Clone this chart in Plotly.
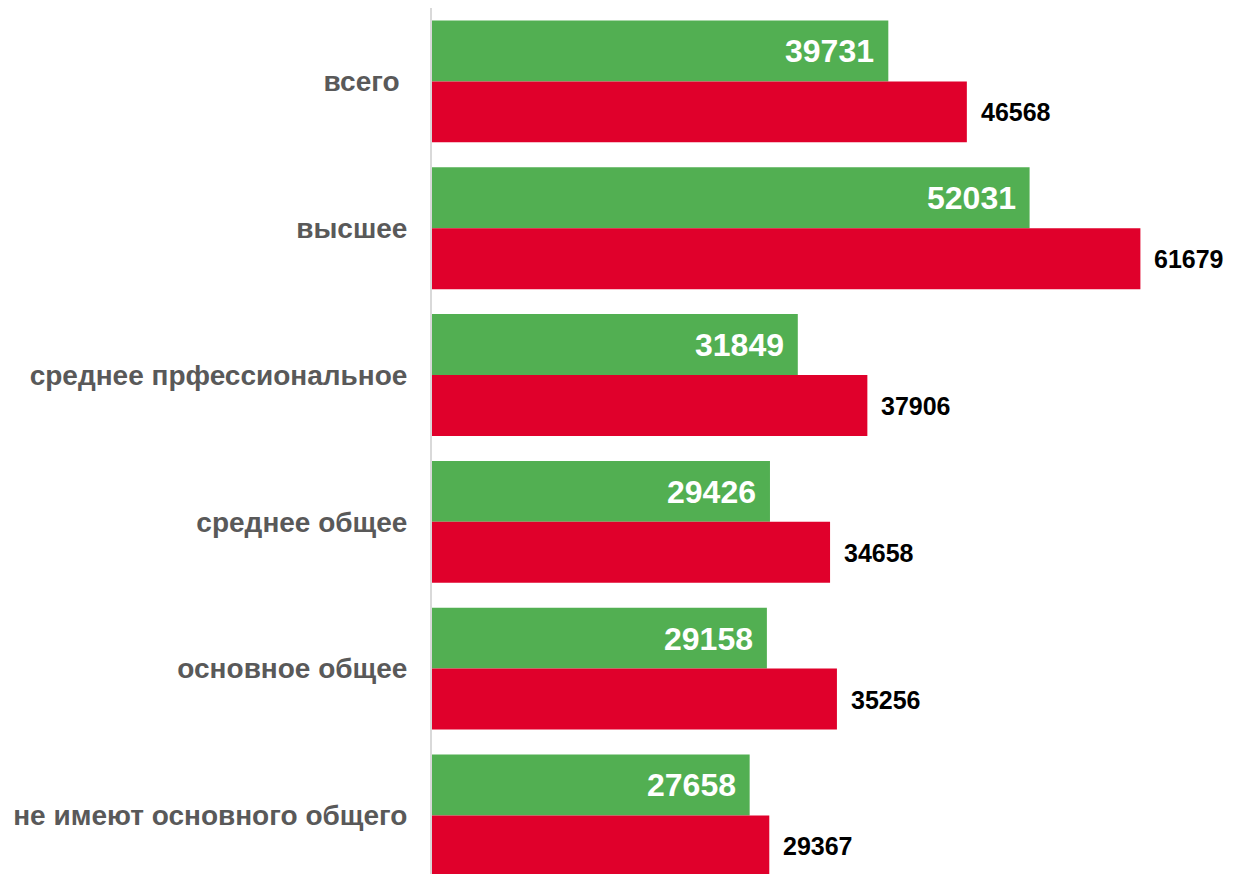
import plotly.graph_objects as go

categories = ["всего\u00a0", "высшее", "среднее прфессиональное", "среднее общее",
              "основное общее", "не имеют основного общего"]
green_values = [39731, 52031, 31849, 29426, 29158, 27658]
red_values = [46568, 61679, 37906, 34658, 35256, 29367]

GREEN = "#52AF52"
RED = "#E0002B"
FONT = "Liberation Sans, Arial, sans-serif"

fig = go.Figure()
fig.add_trace(go.Bar(y=categories, x=green_values, orientation="h",
                     marker=dict(color=GREEN, line=dict(width=0)), name="g"))
fig.add_trace(go.Bar(y=categories, x=red_values, orientation="h",
                     marker=dict(color=RED, line=dict(width=0)), name="r"))

annotations = []
for c, g, r in zip(categories, green_values, red_values):
    annotations.append(dict(x=g, y=c, xref="x", yref="y", text=f"{g}", showarrow=False,
                            xanchor="right", xshift=-12, yshift=30,
                            font=dict(family=FONT, size=32, color="white", weight="bold")))
    annotations.append(dict(x=r, y=c, xref="x", yref="y", text=f"{r}", showarrow=False,
                            xanchor="left", xshift=12, yshift=-31,
                            font=dict(family=FONT, size=25, color="black", weight="bold")))

fig.update_layout(
    width=1217, height=866,
    margin=dict(l=424, r=12, t=0, b=0),
    paper_bgcolor="white", plot_bgcolor="white",
    barmode="group", bargap=0.17, bargroupgap=0,
    showlegend=False,
    annotations=annotations,
    xaxis=dict(range=[0, 68000], showgrid=False, zeroline=False, showticklabels=False,
               showline=False, fixedrange=True),
    yaxis=dict(type="category", range=[5.399, -0.5], showgrid=False, zeroline=False,
               showline=True, linecolor="#D9D9D9", linewidth=2, ticks="",
               ticklabelstandoff=17,
               tickfont=dict(family=FONT, size=28, color="#595959", weight="bold")),
)

fig.write_html("out.html")
